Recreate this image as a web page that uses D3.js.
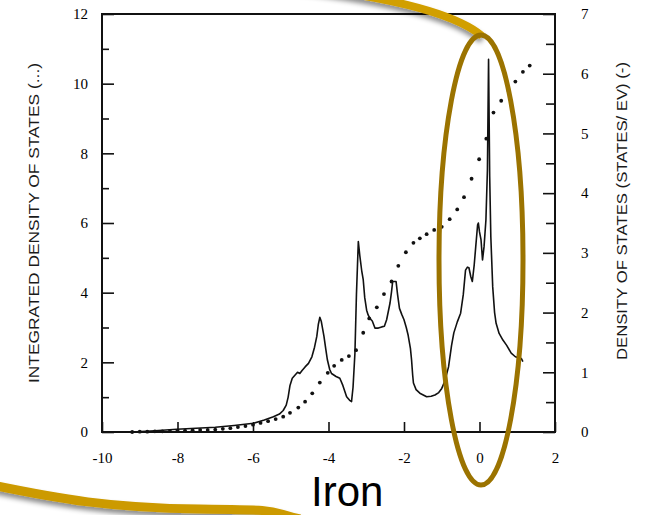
<!DOCTYPE html>
<html>
<head>
<meta charset="utf-8">
<script src="https://cdn.jsdelivr.net/npm/d3@7"></script>
<style>
  html, body { margin: 0; padding: 0; background: #fff; }
  svg { display: block; }
</style>
</head>
<body>
<svg id="chart" width="645" height="515"></svg>
<script>
// ---------- data ----------
const xTicks = [-10, -8, -6, -4, -2, 0, 2];
const leftTicks = [0, 2, 4, 6, 8, 10, 12];
const leftMinor = [1, 3, 5, 7, 9, 11];
const rightTicks = [0, 1, 2, 3, 4, 5, 6, 7];
const rightMinor = [0.5, 1.5, 2.5, 3.5, 4.5, 5.5, 6.5];

// density of states (states/eV), solid line — right axis
const dosE = [-9.21,-8.6,-8.02,-7.0,-6.5,-5.99,-5.7,-5.46,-5.3,-5.2,-5.12,-5.07,-5.02,-4.96,-4.89,-4.82,-4.76,-4.7,-4.62,-4.53,-4.44,-4.37,-4.31,-4.27,-4.23,-4.19,-4.12,-4.07,-4.03,-3.97,-3.92,-3.8,-3.7,-3.62,-3.52,-3.44,-3.39,-3.35,-3.3,-3.26,-3.21,-3.17,-3.12,-3.08,-3.04,-2.99,-2.95,-2.9,-2.84,-2.77,-2.68,-2.59,-2.52,-2.46,-2.37,-2.33,-2.3,-2.21,-2.17,-2.12,-2.06,-2.0,-1.94,-1.89,-1.83,-1.8,-1.77,-1.75,-1.68,-1.58,-1.4,-1.28,-1.18,-1.08,-1.0,-0.92,-0.82,-0.74,-0.68,-0.59,-0.5,-0.43,-0.37,-0.32,-0.28,-0.23,-0.19,-0.14,-0.1,-0.05,-0.03,0.0,0.04,0.08,0.12,0.17,0.21,0.24,0.27,0.3,0.35,0.4,0.44,0.52,0.62,0.72,0.84,0.95,1.05,1.11,1.15];
const dosV = [0,0.02,0.045,0.08,0.11,0.146,0.2,0.256,0.3,0.36,0.45,0.58,0.78,0.9,0.95,1.0,0.98,1.03,1.09,1.15,1.26,1.42,1.6,1.8,1.92,1.85,1.6,1.38,1.21,1.05,0.98,0.93,0.9,0.78,0.59,0.53,0.51,0.75,1.32,2.3,3.19,2.95,2.7,2.55,2.25,2.04,1.96,1.9,1.86,1.74,1.74,1.76,1.77,1.88,2.16,2.35,2.52,2.52,2.3,2.07,1.97,1.88,1.75,1.62,1.4,1.21,0.95,0.82,0.71,0.65,0.59,0.6,0.62,0.66,0.73,0.85,1.09,1.45,1.66,1.84,1.99,2.3,2.71,2.76,2.75,2.6,2.52,2.8,3.1,3.47,3.5,3.35,3.22,2.88,3.1,3.55,4.39,6.24,4.28,3.27,2.43,2.0,1.82,1.65,1.54,1.45,1.32,1.26,1.24,1.23,1.18];

// integrated density of states, dotted — left axis
const intE = [-9.2,-9.0,-8.8,-8.6,-8.4,-8.2,-8.0,-7.8,-7.6,-7.4,-7.2,-7.0,-6.8,-6.6,-6.4,-6.2,-6.0,-5.8,-5.6,-5.4,-5.2,-5.02,-4.8,-4.62,-4.43,-4.23,-4.02,-3.85,-3.65,-3.46,-3.27,-3.08,-2.92,-2.72,-2.53,-2.33,-2.15,-1.95,-1.75,-1.58,-1.4,-1.2,-1.0,-0.79,-0.59,-0.41,-0.21,-0.01,0.18,0.37,0.575,0.77,0.95,1.15,1.33];
const intV = [0,0.01,0.01,0.02,0.02,0.03,0.04,0.04,0.05,0.06,0.06,0.07,0.09,0.11,0.14,0.17,0.21,0.26,0.31,0.37,0.44,0.55,0.7,0.87,1.11,1.42,1.7,1.9,2.07,2.18,2.35,2.85,3.26,3.58,3.96,4.32,4.77,5.16,5.43,5.56,5.68,5.8,5.89,6.11,6.39,6.74,7.27,7.83,8.42,9.17,9.51,9.79,10.06,10.34,10.52];

const leftTitle = "INTEGRATED DENSITY OF STATES (...)";
const rightTitle = "DENSITY OF STATES (STATES/ EV) (-)";
const caption = "Iron";

// ---------- layout ----------
const svg = d3.select("#chart");
const L = 102, R = 555, T = 14, B = 432;
const x = d3.scaleLinear().domain([-10, 2]).range([L, R]);
const yL = d3.scaleLinear().domain([0, 12]).range([B, T]);
const yR = d3.scaleLinear().domain([0, 7]).range([B, T]);

const defs = svg.append("defs");
const f = defs.append("filter").attr("id", "shadow").attr("x", "-20%").attr("y", "-50%").attr("width", "140%").attr("height", "200%");
f.append("feDropShadow").attr("dx", 0).attr("dy", 4).attr("stdDeviation", 2.5)
  .attr("flood-color", "#000").attr("flood-opacity", 0.45);

const serif = "'Liberation Serif','Times New Roman','DejaVu Serif',serif";
const sans = "'Liberation Sans',Arial,Helvetica,sans-serif";
const fmt = d => String(d);

function styleAxis(g) {
  g.select(".domain").remove();
  g.selectAll(".tick line").attr("stroke", "#111").attr("stroke-width", 1.6);
  g.selectAll(".tick text").attr("fill", "#000").style("font-family", serif).style("font-size", "15px");
}

// bottom axis
svg.append("g").attr("transform", `translate(0,${B})`)
  .call(d3.axisBottom(x).tickValues(xTicks).tickSize(-10).tickPadding(20).tickFormat(fmt))
  .call(styleAxis);

// left axis
svg.append("g").attr("transform", `translate(${L},0)`)
  .call(d3.axisLeft(yL).tickValues(leftTicks).tickSize(-12).tickPadding(14).tickFormat(fmt))
  .call(styleAxis);
svg.append("g").attr("transform", `translate(${L},0)`)
  .call(d3.axisLeft(yL).tickValues(leftMinor).tickSize(-7).tickFormat(""))
  .call(styleAxis);

// right axis
svg.append("g").attr("transform", `translate(${R},0)`)
  .call(d3.axisRight(yR).tickValues(rightTicks).tickSize(-12).tickPadding(26).tickFormat(fmt))
  .call(styleAxis);
svg.append("g").attr("transform", `translate(${R},0)`)
  .call(d3.axisRight(yR).tickValues(rightMinor).tickSize(-9).tickFormat(""))
  .call(styleAxis);

// frame
svg.append("rect").attr("x", L).attr("y", T).attr("width", R - L).attr("height", B - T)
  .attr("fill", "none").attr("stroke", "#111").attr("stroke-width", 2);

// DOS line
const dos = dosE.map((e, i) => [e, dosV[i]]);
svg.append("path").datum(dos)
  .attr("fill", "none").attr("stroke", "#111").attr("stroke-width", 1.6).attr("stroke-linejoin", "round")
  .attr("d", d3.line().x(d => x(d[0])).y(d => yR(d[1])));

// integrated DOS dots
const integ = intE.map((e, i) => [e, intV[i]]);
svg.append("g").selectAll("circle").data(integ).join("circle")
  .attr("cx", d => x(d[0])).attr("cy", d => yL(d[1])).attr("r", 1.9).attr("fill", "#111");

// axis titles
svg.append("text").attr("transform", `translate(39,223) rotate(-90)`)
  .attr("text-anchor", "middle").style("font-family", sans).style("font-size", "14px").attr("fill", "#1a1a1a")
  .attr("textLength", 320).attr("lengthAdjust", "spacingAndGlyphs").text(leftTitle);
svg.append("text").attr("transform", `translate(627,211) rotate(-90)`)
  .attr("text-anchor", "middle").style("font-family", sans).style("font-size", "14px").attr("fill", "#1a1a1a")
  .attr("textLength", 298).attr("lengthAdjust", "spacingAndGlyphs").text(rightTitle);

// decorations
svg.append("path").attr("d", "M -8,485 C 60,499 110,508 200,509 S 265,511 300,519")
  .attr("fill", "none").attr("stroke", "#cc9a00").attr("stroke-width", 9).attr("filter", "url(#shadow)");
svg.append("path").attr("d", "M 180,-24 Q 430,-8 482,36")
  .attr("fill", "none").attr("stroke", "#d19f00").attr("stroke-width", 8).attr("filter", "url(#shadow)");
svg.append("ellipse").attr("cx", 481).attr("cy", 260).attr("rx", 42).attr("ry", 225)
  .attr("fill", "none").attr("stroke", "#9b7300").attr("stroke-width", 5);

svg.append("text").attr("x", 311).attr("y", 506).style("font-family", sans).style("font-size", "42px")
  .attr("fill", "#000").text(caption);
</script>
</body>
</html>
